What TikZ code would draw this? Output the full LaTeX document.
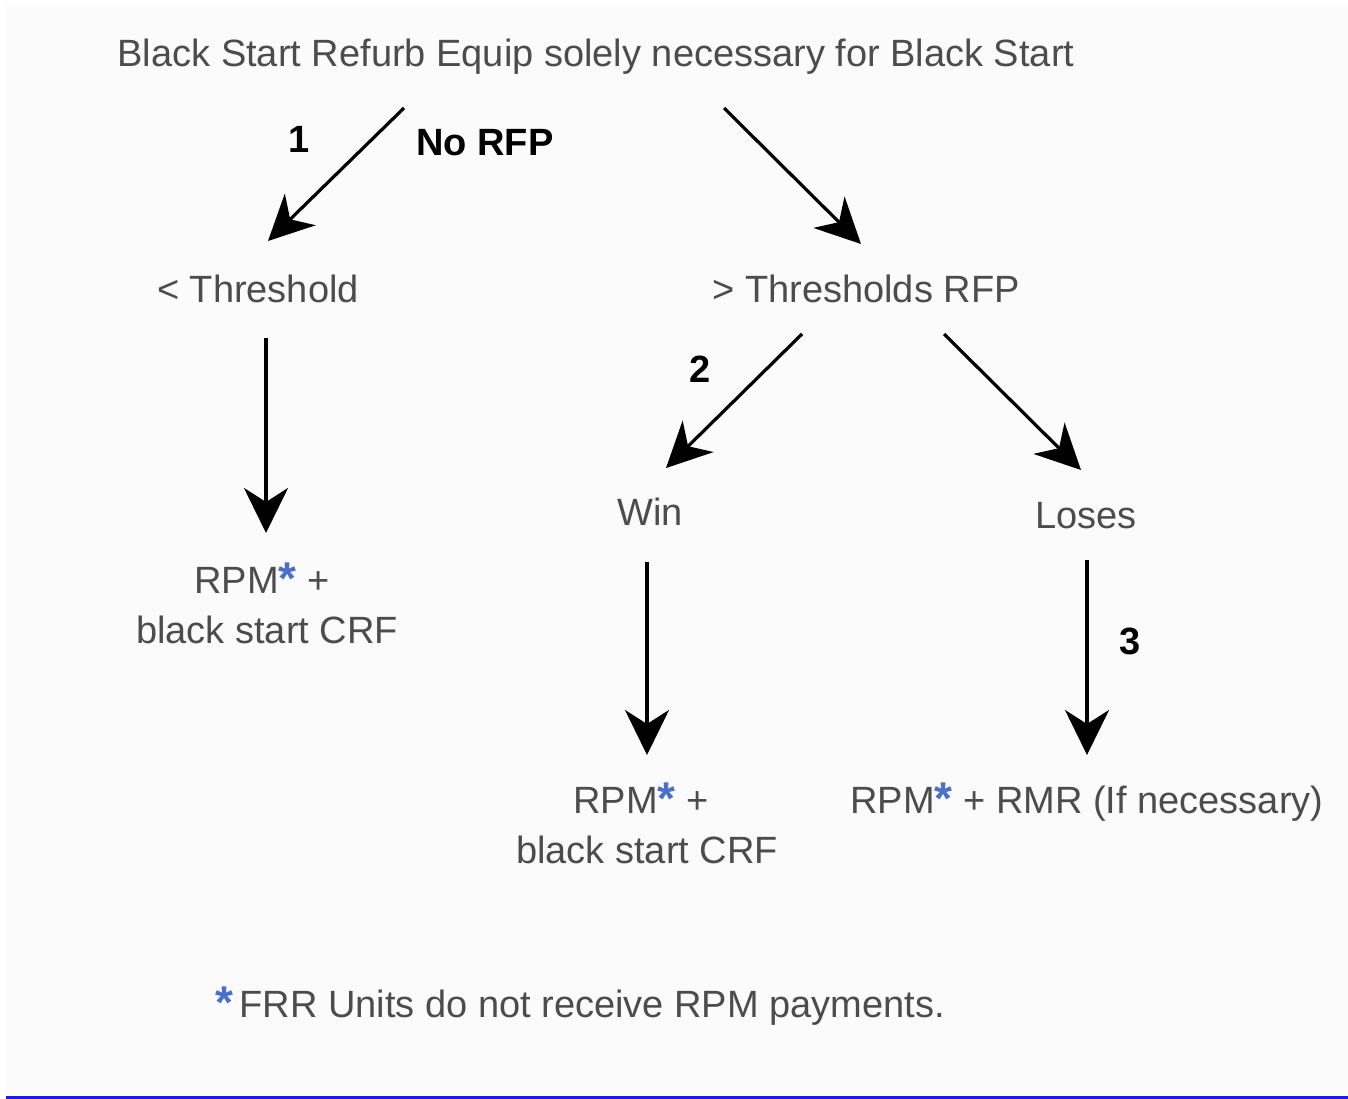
\documentclass[tikz,border=0pt]{standalone}
\usepackage{fontspec}
\setmainfont{Liberation Sans}
\usetikzlibrary{arrows.meta}
\definecolor{bgray}{HTML}{FBFBFB}
\definecolor{txt}{HTML}{4C4C4C}
\definecolor{starblue}{HTML}{4A70C8}
\definecolor{rulecol}{HTML}{1A1AF0}
\newcommand\bstar{\raisebox{-1pt}{\color{starblue}\bfseries\fontsize{46}{46}\selectfont *}}
\begin{document}
\begin{tikzpicture}[x=1pt,y=-1pt,
  lbl/.style={font=\fontsize{38}{40}\selectfont, text=txt, inner sep=0pt, anchor=base},
  num/.style={font=\bfseries\fontsize{38}{40}\selectfont, text=black, inner sep=0pt, anchor=base},
  arr/.style={line width=3.2pt, black, -{Stealth[length=45pt,width=44pt,inset=14pt]}}]
\useasboundingbox (0,0) rectangle (1348,1099);
\fill[white] (0,0) rectangle (1348,1099);
\fill[bgray] (6,5) rectangle (1348,1095);
\draw[rulecol, line width=2.4pt] (6,1097.5) -- (1348,1097.5);

\node[lbl] (title) at (596,67) {Black Start Refurb Equip solely necessary for Black Start};
\node[num] (n1) at (299,153) {1};
\node[num, anchor=base west] (norfp) at (416,156) {No RFP};
\node[lbl] (lt) at (258,302) {< Threshold};
\node[lbl] (gt) at (866,302) {> Thresholds RFP};
\node[num] (n2) at (700,382) {2};
\node[lbl] (win) at (650,525) {Win};
\node[lbl] (loses) at (1086,528) {Loses};
\node[num] (n3) at (1130,654) {3};
\node[lbl] (rpmA) at (262,593) {RPM\bstar{} +};
\node[lbl] (crfA) at (267,643) {black start CRF};
\node[lbl] (rpmB) at (641,813) {RPM\bstar{} +};
\node[lbl] (crfB) at (647,863) {black start CRF};
\node[lbl] (rpmC) at (1087,813) {RPM\bstar{} + RMR (If necessary)};
\node[lbl, anchor=base west] (foot) at (215,1017) {\bstar{}\,FRR Units do not receive RPM payments.};

\coordinate (a1s) at (404,108); \coordinate (a1e) at (268,241);
\coordinate (a2s) at (724,108); \coordinate (a2e) at (861,244);
\coordinate (a3s) at (266,338); \coordinate (a3e) at (266,533);
\coordinate (a4s) at (802,334); \coordinate (a4e) at (666,468);
\coordinate (a5s) at (944,334); \coordinate (a5e) at (1081,470);
\coordinate (a6s) at (647,562); \coordinate (a6e) at (647,755);
\coordinate (a7s) at (1087,560); \coordinate (a7e) at (1087,755);
\draw[arr] (a1s) -- (a1e);
\draw[arr] (a2s) -- (a2e);
\draw[arr] (a3s) -- (a3e);
\draw[arr] (a4s) -- (a4e);
\draw[arr] (a5s) -- (a5e);
\draw[arr] (a6s) -- (a6e);
\draw[arr] (a7s) -- (a7e);
\end{tikzpicture}
\end{document}
